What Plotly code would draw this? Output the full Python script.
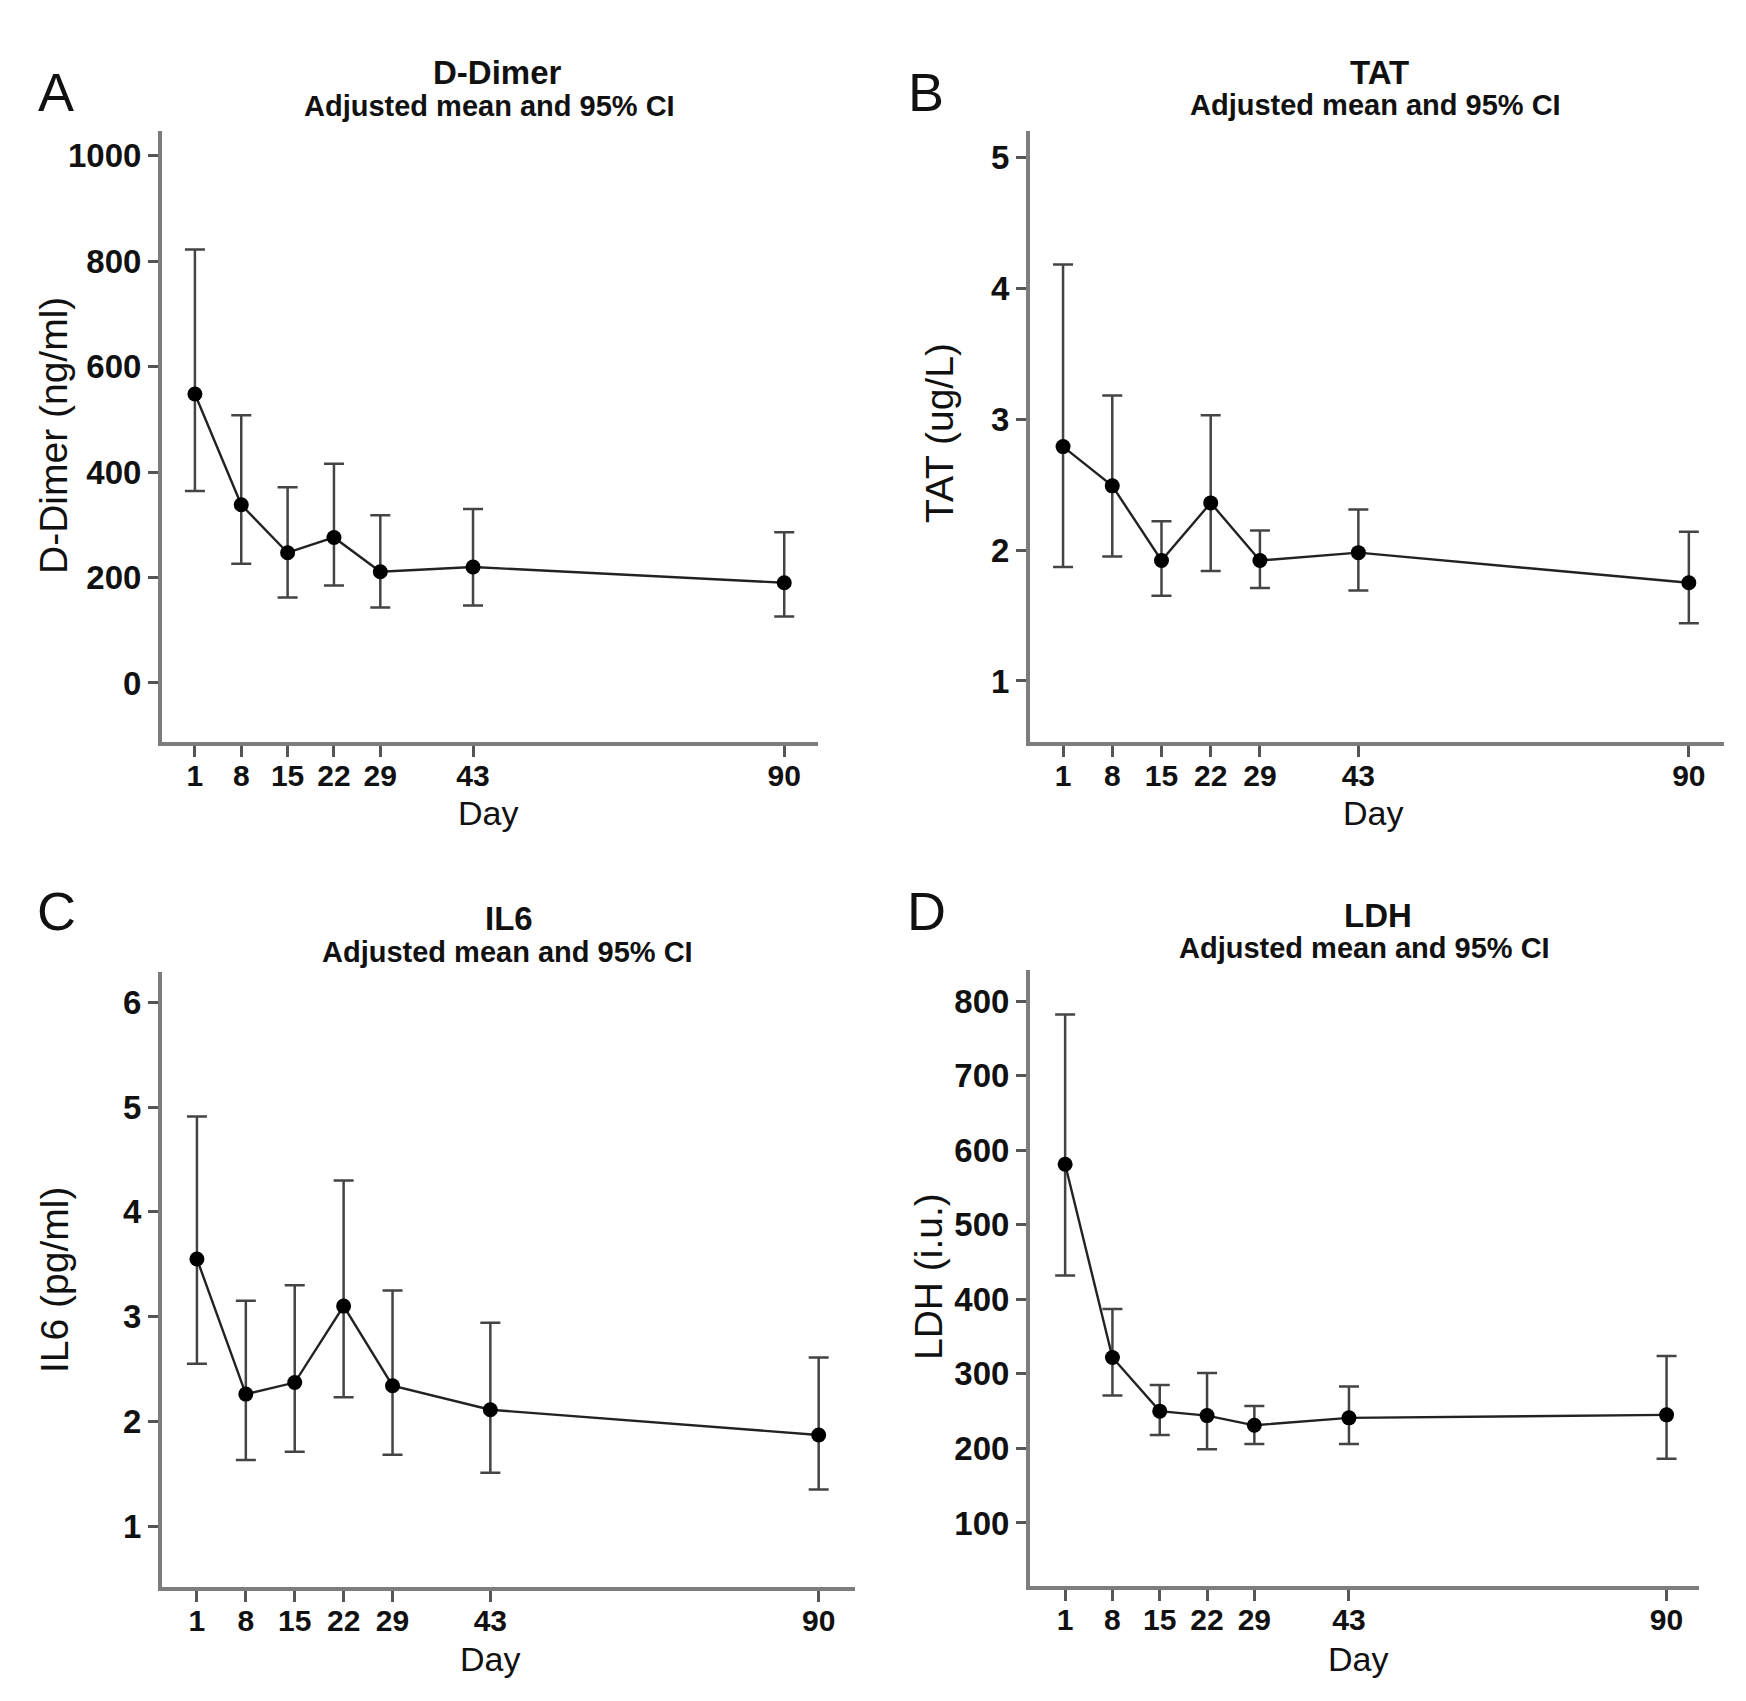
import plotly.graph_objects as go

PAGE_W, PAGE_H = 1746, 1701
OFF = 8  # default body margin of the html page
FW, FH = PAGE_W - OFF, PAGE_H - OFF

days = [1, 8, 15, 22, 29, 43, 90]
day_ticks = [1, 8, 15, 22, 29, 43, 90]

ddimer_mean = [548, 338, 247, 276, 211, 220, 190]
ddimer_upper = [822, 508, 371, 416, 318, 330, 286]
ddimer_lower = [364, 226, 162, 185, 143, 147, 126]

tat_mean = [2.79, 2.49, 1.92, 2.36, 1.92, 1.98, 1.75]
tat_upper = [4.18, 3.18, 2.22, 3.03, 2.15, 2.31, 2.14]
tat_lower = [1.87, 1.95, 1.65, 1.84, 1.71, 1.69, 1.44]

il6_mean = [3.55, 2.26, 2.37, 3.10, 2.34, 2.11, 1.87]
il6_upper = [4.91, 3.15, 3.30, 4.30, 3.25, 2.94, 2.61]
il6_lower = [2.55, 1.63, 1.71, 2.23, 1.68, 1.51, 1.35]

ldh_mean = [581, 322, 250, 244, 231, 241, 245]
ldh_upper = [782, 387, 285, 301, 257, 283, 324]
ldh_lower = [432, 271, 218, 199, 206, 206, 186]

panels = [
    dict(letter="A", title="D-Dimer", ytitle="D-Dimer (ng/ml)", mean=ddimer_mean, up=ddimer_upper, lo=ddimer_lower,
         yticks=[0, 200, 400, 600, 800, 1000], yrange=[-112, 1047], xrange=[-3.97, 95.1],
         box=(162, 818, 131, 742)),
    dict(letter="B", title="TAT", ytitle="TAT (ug/L)", mean=tat_mean, up=tat_upper, lo=tat_lower,
         yticks=[1, 2, 3, 4, 5], yrange=[0.534, 5.2], xrange=[-3.7, 95.0],
         box=(1030, 1724, 131, 742)),
    dict(letter="C", title="IL6", ytitle="IL6 (pg/ml)", mean=il6_mean, up=il6_upper, lo=il6_lower,
         yticks=[1, 2, 3, 4, 5, 6], yrange=[0.418, 6.29], xrange=[-4.0, 95.2],
         box=(162, 855, 972, 1587)),
    dict(letter="D", title="LDH", ytitle="LDH (i.u.)", mean=ldh_mean, up=ldh_upper, lo=ldh_lower,
         yticks=[100, 200, 300, 400, 500, 600, 700, 800], yrange=[15.5, 841.6], xrange=[-4.2, 94.8],
         box=(1030, 1699, 970, 1586)),
]

# annotation positions (page pixels)
letter_pos = [(56, 92), (926, 92), (56, 911), (926, 911)]
title_pos = [(497, 72), (1379, 72), (509, 919), (1378, 915)]
sub_pos = [(489, 106), (1375, 105), (507, 952), (1364, 948)]
ytitle_pos = [(54, 436), (939, 433), (54, 1280), (928, 1277)]
day_pos = [(488, 813), (1373, 813), (490, 1659), (1358, 1659)]

FONT = "Liberation Sans, Arial, Helvetica, sans-serif"
TXT = "#111111"
AXC = "#7d7d7d"
TICKC = "#555555"

def px(x):
    return (x - OFF) / FW

def py(y):
    return 1 - (y - OFF) / FH

fig = go.Figure()
layout = dict(width=FW, height=FH, margin=dict(l=0, r=0, t=0, b=0, pad=0),
              paper_bgcolor="white", plot_bgcolor="white", showlegend=False,
              font=dict(family=FONT, color=TXT))
annotations = []

for i, p in enumerate(panels):
    n = "" if i == 0 else str(i + 1)
    xa, ya = "x" + n, "y" + n
    err_plus = [u - m for u, m in zip(p["up"], p["mean"])]
    err_minus = [m - l for m, l in zip(p["mean"], p["lo"])]
    fig.add_trace(go.Scatter(
        x=days, y=p["mean"], xaxis=xa, yaxis=ya, mode="lines+markers",
        line=dict(color="#222222", width=2.4),
        marker=dict(color="#000000", size=15),
        error_y=dict(type="data", symmetric=False, array=err_plus, arrayminus=err_minus,
                     color="#444444", thickness=2.5, width=10),
        hoverinfo="skip"))
    x0, x1, y0, y1 = p["box"]
    layout["xaxis" + n] = dict(domain=[px(x0), px(x1)], anchor=ya, range=p["xrange"],
                               tickmode="array", tickvals=day_ticks, ticktext=[str(d) for d in day_ticks],
                               showline=True, linecolor=AXC, linewidth=4, showgrid=False, zeroline=False,
                               ticks="outside", ticklen=11, tickwidth=2.5, tickcolor=TICKC,
                               ticklabelstandoff=-7,
                               tickfont=dict(size=30, family=FONT, color=TXT, weight="bold"))
    layout["yaxis" + n] = dict(domain=[py(y1), py(y0)], anchor=xa, range=p["yrange"],
                               tickmode="array", tickvals=p["yticks"],
                               showline=True, linecolor=AXC, linewidth=4, showgrid=False, zeroline=False,
                               ticks="outside", ticklen=10, tickwidth=2.5, tickcolor=TICKC,
                               tickfont=dict(size=33, family=FONT, color=TXT, weight="bold"))
    lx, ly = letter_pos[i]
    annotations.append(dict(text=p["letter"], x=px(lx), y=py(ly), xref="paper", yref="paper",
                            showarrow=False, font=dict(size=54, family=FONT, color=TXT),
                            xanchor="center", yanchor="middle"))
    tx, ty = title_pos[i]
    annotations.append(dict(text="<b>" + p["title"] + "</b>", x=px(tx), y=py(ty), xref="paper", yref="paper",
                            showarrow=False, font=dict(size=33, family=FONT, color=TXT),
                            xanchor="center", yanchor="middle"))
    sx, sy = sub_pos[i]
    annotations.append(dict(text="<b>Adjusted mean and 95% CI</b>", x=px(sx), y=py(sy), xref="paper", yref="paper",
                            showarrow=False, font=dict(size=29, family=FONT, color=TXT),
                            xanchor="center", yanchor="middle"))
    yx, yy = ytitle_pos[i]
    annotations.append(dict(text=p["ytitle"], x=px(yx), y=py(yy), xref="paper", yref="paper",
                            showarrow=False, textangle=-90, font=dict(size=39, family=FONT, color=TXT),
                            xanchor="center", yanchor="middle"))
    dx, dy = day_pos[i]
    annotations.append(dict(text="Day", x=px(dx), y=py(dy), xref="paper", yref="paper",
                            showarrow=False, font=dict(size=34, family=FONT, color=TXT),
                            xanchor="center", yanchor="middle"))

layout["annotations"] = annotations
fig.update_layout(**layout)
fig.write_html("out.html")
